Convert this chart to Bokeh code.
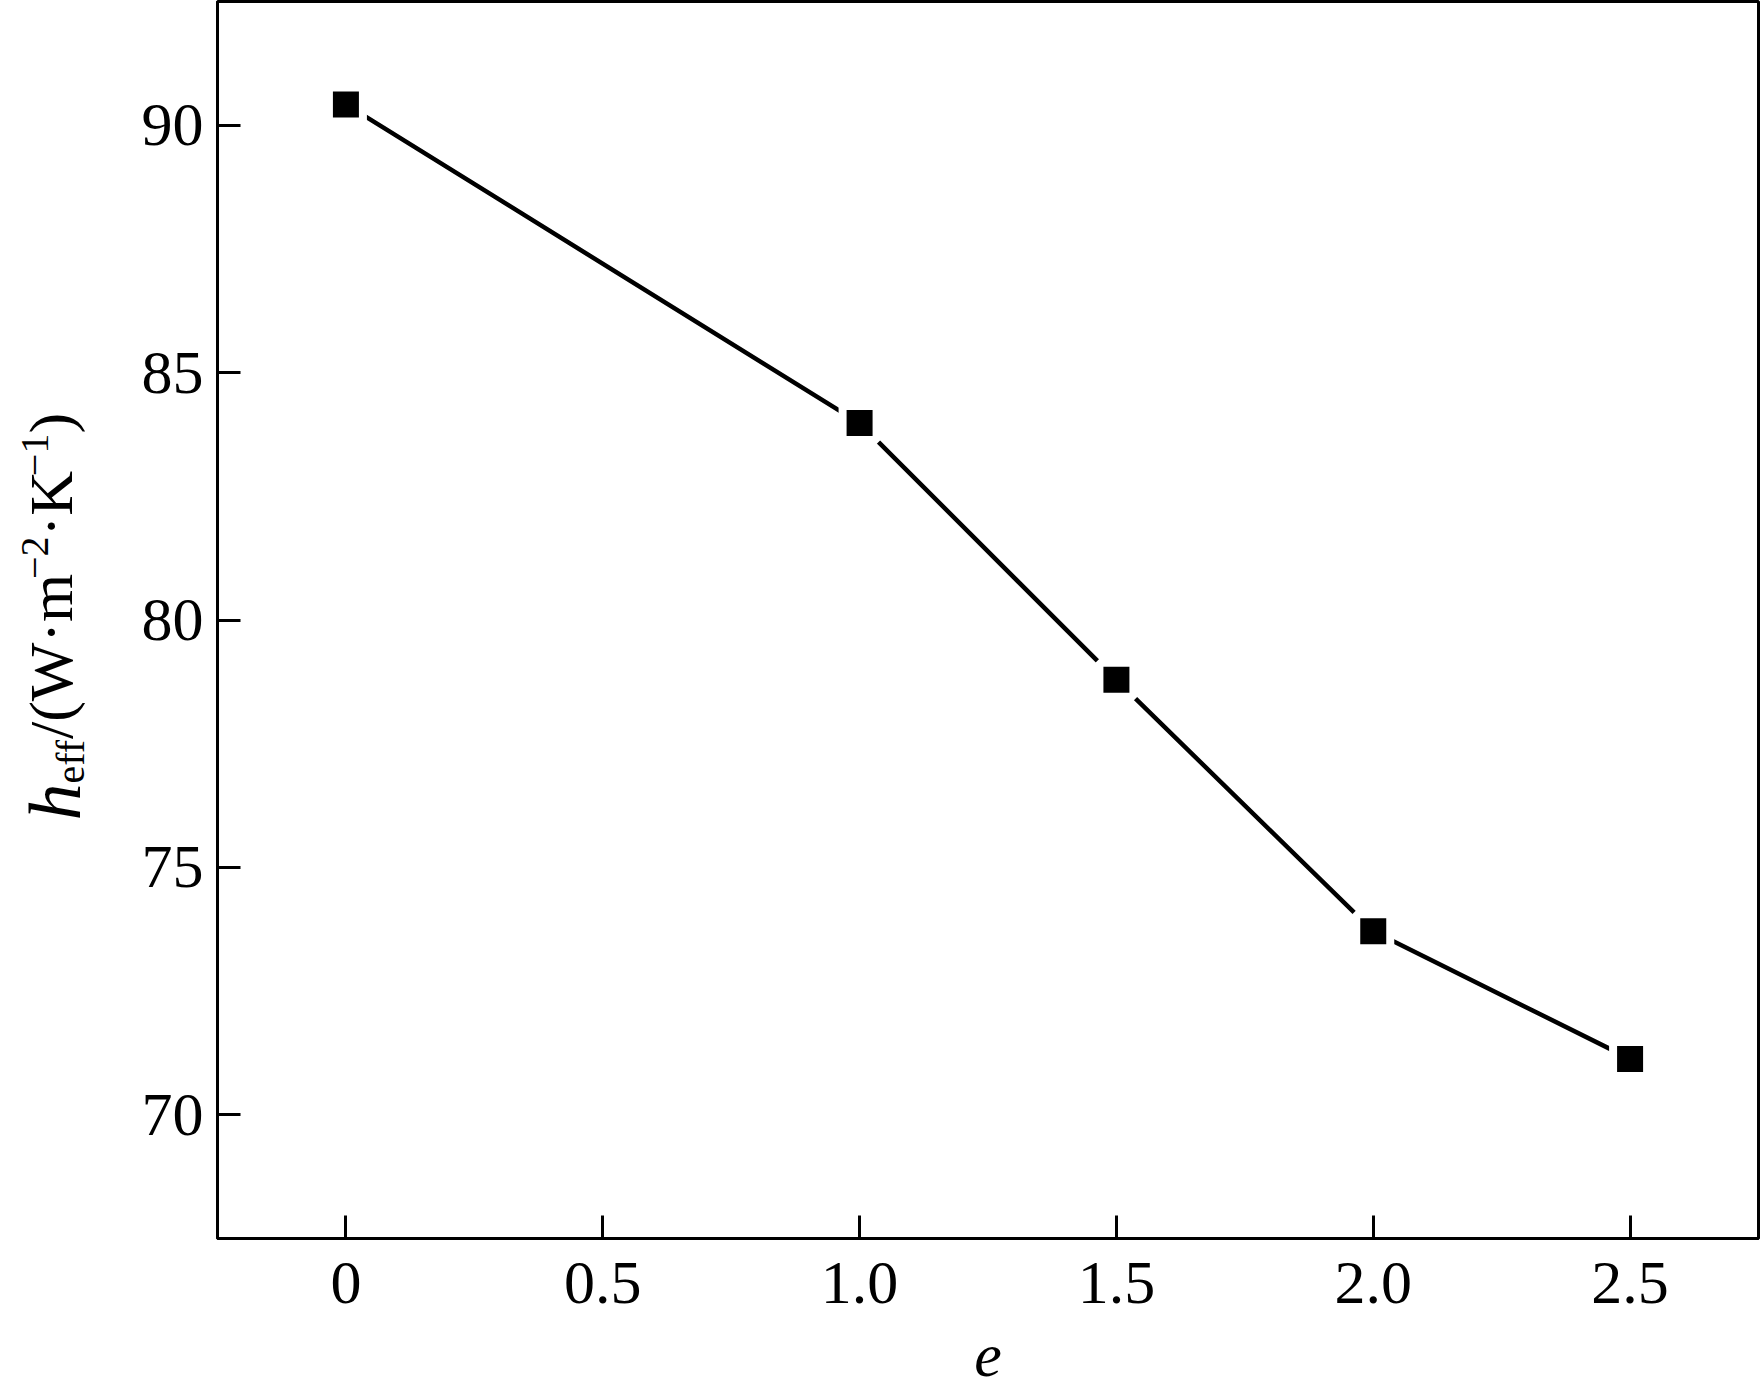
import math
from bokeh.plotting import figure
from bokeh.layouts import row
from bokeh.models import Range1d, FixedTicker
from bokeh.core.properties import value
from bokeh.embed import file_html
from bokeh.resources import INLINE

# ---- data ----
e_values = [0.0, 1.0, 1.5, 2.0, 2.5]
h_eff = [90.42, 83.98, 78.79, 73.71, 71.13]

x_ticks = [0, 0.5, 1.0, 1.5, 2.0, 2.5]
x_tick_labels = ["0", "0.5", "1.0", "1.5", "2.0", "2.5"]
y_ticks = [70, 75, 80, 85, 90]
y_tick_labels = ["70", "75", "80", "85", "90"]

X_START, X_END = -0.25, 2.75
Y_START, Y_END = 67.5, 92.5

FONT = "Liberation Serif"

# ---- layout (page pixels) ----
TOTAL_W, H = 1760, 1395
LW = 130                      # width of the strip holding the y-axis title
FRAME_L, FRAME_R, FRAME_T, FRAME_B = 217, 1758, 1, 1238

W = TOTAL_W - LW
p = figure(width=W, height=H,
           x_range=Range1d(X_START, X_END), y_range=Range1d(Y_START, Y_END),
           output_backend="svg", toolbar_location=None,
           min_border_left=FRAME_L - LW, min_border_right=TOTAL_W - FRAME_R,
           min_border_top=FRAME_T, min_border_bottom=H - FRAME_B)

p.background_fill_color = "white"
p.border_fill_color = "white"
p.outline_line_color = "black"
p.outline_line_width = 3
p.xgrid.visible = False
p.ygrid.visible = False

p.line(e_values, h_eff, line_width=4.5, line_color="black")
p.scatter(e_values, h_eff, marker="square", size=34,
          fill_color="black", line_color="white", line_width=8)

p.xaxis.ticker = FixedTicker(ticks=x_ticks)
p.xaxis.major_label_overrides = {t: l for t, l in zip(x_ticks, x_tick_labels)}
p.yaxis.ticker = FixedTicker(ticks=y_ticks)
p.yaxis.major_label_overrides = {t: l for t, l in zip(y_ticks, y_tick_labels)}

for ax in [p.xaxis[0], p.yaxis[0]]:
    ax.axis_line_width = 3
    ax.axis_line_color = "black"
    ax.major_tick_line_width = 3
    ax.major_tick_line_color = "black"
    ax.major_tick_in = 23
    ax.major_tick_out = 0
    ax.minor_tick_in = 0
    ax.minor_tick_out = 0
    ax.minor_tick_line_color = None
    ax.major_label_text_font = FONT
    ax.major_label_text_font_size = "62px"
    ax.major_label_text_color = "black"

p.yaxis.major_label_standoff = 14
p.xaxis.major_label_standoff = 24

p.xaxis.axis_label = "e"
p.xaxis.axis_label_text_font = FONT
p.xaxis.axis_label_text_font_style = "italic"
p.xaxis.axis_label_text_font_size = "62px"
p.xaxis.axis_label_text_color = "black"
p.xaxis.axis_label_standoff = 30

# ---- y-axis title, composed of rotated pieces in a narrow strip ----
# the strip's frame spans the same rows as the main frame; its data
# coordinates are page pixels (y grows downwards).
lab = figure(width=LW, height=H,
             x_range=Range1d(0, LW), y_range=Range1d(FRAME_B, FRAME_T),
             output_backend="svg", toolbar_location=None,
             x_axis_type=None, y_axis_type=None,
             min_border_left=0, min_border_right=0,
             min_border_top=FRAME_T, min_border_bottom=H - FRAME_B)
lab.outline_line_color = None
lab.grid.visible = False
lab.background_fill_color = "white"
lab.border_fill_color = "white"

MAIN, SUB, HSIZE = 62, 40, 74
SHIFT = 0.45                  # observed baseline offset of rotated text, per px of font size
widths = {"h": 0.5, "e": 0.444, "f": 0.333, "/": 0.278, "(": 0.333, "W": 0.944,
          "\u00b7": 0.25, "m": 0.778, "\u2212": 0.564, "2": 0.5, "K": 0.722,
          "1": 0.5, ")": 0.333}
base_main, base_sub, base_sup = 78, 88, 52
pieces = [("h", HSIZE, "italic", base_sub),
          ("eff", SUB, "normal", base_sub),
          ("/(W\u00b7m", MAIN, "normal", base_main),
          ("\u22122", SUB, "normal", base_sup),
          ("\u00b7K", MAIN, "normal", base_main),
          ("\u22121", SUB, "normal", base_sup),
          (")", MAIN, "normal", base_main)]

start_page_y = 820
dist = 0.0
for txt, fs, style, bx in pieces:
    lab.text(x=[bx - SHIFT * fs], y=[start_page_y - dist], text=[txt], angle=math.pi / 2,
             text_font=value(FONT), text_font_size=value(f"{fs}px"),
             text_font_style=style, text_color="black",
             text_align="left", text_baseline="alphabetic")
    dist += sum(widths[c] for c in txt) * fs

layout = row(lab, p, spacing=0)
open("out.html", "w").write(file_html(layout, INLINE))
